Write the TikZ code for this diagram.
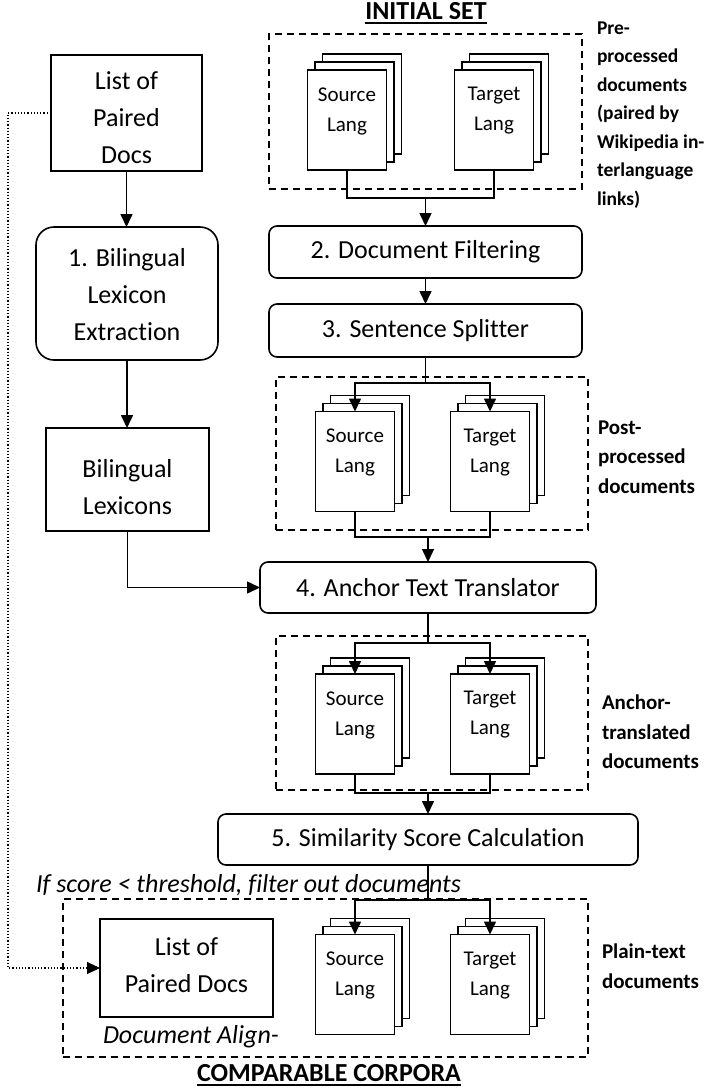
\documentclass[tikz,border=0pt]{standalone}
\usepackage{fontspec}
\setmainfont{Carlito}[Ligatures=NoCommon]
\usetikzlibrary{arrows.meta}
\newcommand\docstack[4]{%
  \node[page] (#1c) at ({#2+15},{#3-16}) {};
  \node[page] (#1b) at ({#2+7.5},{#3-8}) {};
  \node[page] (#1) at (#2,#3) {};
  \node[pagetext] (#1t) at (#2,{#3-9}) {#4};
}
\begin{document}
\begin{tikzpicture}[x=1pt,y=-1pt,
  every node/.style={inner sep=0pt, outer sep=0pt},
  boxtext/.style={align=center, font=\fontsize{26}{37}\selectfont},
  box/.style={draw, line width=1.6pt, boxtext},
  rbox/.style={box, rounded corners=8pt},
  page/.style={draw, fill=white, line width=1.6pt, minimum width=79pt, minimum height=100pt},
  pagetext/.style={align=center, font=\fontsize{21}{30}\selectfont},
  dbox/.style={draw, line width=1.3pt, dash pattern=on 7pt off 5pt},
  side/.style={align=left, anchor=west, font=\bfseries\fontsize{21}{29.5}\selectfont},
  head/.style={font=\bfseries\fontsize{26}{30}\selectfont},
  note/.style={anchor=west, font=\itshape\fontsize{26}{30}\selectfont},
  arr/.style={-{Triangle[length=13pt,width=12pt]}},
  conn/.style={line width=1.6pt},
]
\useasboundingbox (0,0) rectangle (716,1088);

% dashed groups
\node[dbox, minimum width=313pt, minimum height=155pt] (g1) at (425.5,111.5) {};
\node[dbox, minimum width=312pt, minimum height=153pt] (g2) at (432,453.5) {};
\node[dbox, minimum width=312pt, minimum height=154pt] (g3) at (432,713) {};
\node[dbox, minimum width=525pt, minimum height=158pt] (g4) at (325.5,978) {};

% headings
\node[head] (h1) at (426,11.5) {INITIAL SET};
\draw[line width=2pt] ([yshift=-3pt]h1.south west) -- ([yshift=-3pt]h1.south east);
\node[head] (h2) at (329,1073.5) {COMPARABLE CORPORA};
\draw[line width=2pt] ([yshift=-3pt]h2.south west) -- ([yshift=-3pt]h2.south east);

% left column
\node[box, minimum width=151pt, minimum height=116pt] (list1) at (126.5,113) {};
\node[boxtext] (list1t) at ([yshift=-5pt]list1.center) {List of\\Paired\\Docs};
\node[box, rounded corners=18pt, minimum width=182pt, minimum height=133pt] (b1) at (127,293.5) {};
\node[boxtext] (b1t) at ([yshift=-1pt]b1.center) {1. Bilingual\\Lexicon\\Extraction};
\node[box, minimum width=163pt, minimum height=103pt] (lex) at (127.5,479.5) {};
\node[boxtext] (lext) at ([yshift=-8pt]lex.center) {Bilingual\\Lexicons};

% process boxes
\node[rbox, minimum width=313pt, minimum height=52pt] (b2) at (425.5,252) {2. Document Filtering};
\node[rbox, minimum width=313pt, minimum height=53pt] (b3) at (425.5,330.5) {3. Sentence Splitter};
\node[rbox, minimum width=336pt, minimum height=51pt] (b4) at (428,587.5) {4. Anchor Text Translator};
\node[rbox, minimum width=420pt, minimum height=51pt] (b5) at (428,839.5) {5. Similarity Score Calculation};
\node[box, minimum width=173pt, minimum height=98pt] (list2) at (186.5,968) {};
\node[boxtext] (list2t) at ([yshift=3pt]list2.center) {List of\\Paired Docs};

% document stacks
\docstack{s1}{347}{120}{Source\\Lang}
\docstack{t1}{494}{120}{Target\\Lang}
\docstack{s2}{355}{461.5}{Source\\Lang}
\docstack{t2}{490}{461.5}{Target\\Lang}
\docstack{s3}{355}{724}{Source\\Lang}
\docstack{t3}{490}{724}{Target\\Lang}
\docstack{s4}{355}{984.5}{Source\\Lang}
\docstack{t4}{490}{984.5}{Target\\Lang}

% side labels
\node[side, font=\bfseries\fontsize{19.5}{28.5}\selectfont] (l1) at (597,115) {Pre-\\processed\\documents\\(paired by\\Wikipedia in-\\terlanguage\\links)};
\node[side] (l2) at (598,457) {Post-\\processed\\documents};
\node[side] (l3) at (602,732) {Anchor-\\translated\\documents};
\node[side] (l4) at (602,966) {Plain-text\\documents};

% notes
\node[note] (n1) at (36,885) {If score < threshold, filter out documents};
\node[note] (n2) at (103,1037) {Document Align-};

% left connectors
\draw[conn,arr] (list1.south) -- (list1.south |- b1.north);
\draw[conn,arr] (b1.south) -- (b1.south |- lex.north);
\draw[conn,arr] (lex.south) |- (b4.west);
\draw[line width=1.2pt,dotted,arr] (list1.west) -- ++(-43,0) |- (list2.west);

% set 1 -> box 2 -> box 3
\coordinate (j1) at (b2.north |- 0,198);
\draw[conn] (s1.south) |- (j1) -| (t1.south);
\draw[conn,arr] (j1) -- (b2.north);
\draw[conn,arr] (b2.south) -- (b3.north);

% box 3 -> set 2 -> box 4
\coordinate (j2) at (b3.south |- 0,383);
\draw[conn] (b3.south) -- (j2);
\draw[conn,arr] (j2) -| (s2.north);
\draw[conn,arr] (j2) -| (t2.north);
\coordinate (j3) at (b4.north |- 0,537);
\draw[conn] (s2.south) |- (j3) -| (t2.south);
\draw[conn,arr] (j3) -- (b4.north);

% box 4 -> set 3 -> box 5
\coordinate (j4) at (b4.south |- 0,643);
\draw[conn] (b4.south) -- (j4);
\draw[conn,arr] (j4) -| (s3.north);
\draw[conn,arr] (j4) -| (t3.north);
\coordinate (j5) at (b5.north |- 0,793);
\draw[conn] (s3.south) |- (j5) -| (t3.south);
\draw[conn,arr] (j5) -- (b5.north);

% box 5 -> set 4
\coordinate (j6) at (b5.south |- 0,900);
\draw[conn] (b5.south) -- (j6);
\draw[conn,arr] (j6) -| (s4.north);
\draw[conn,arr] (j6) -| (t4.north);
\end{tikzpicture}
\end{document}
